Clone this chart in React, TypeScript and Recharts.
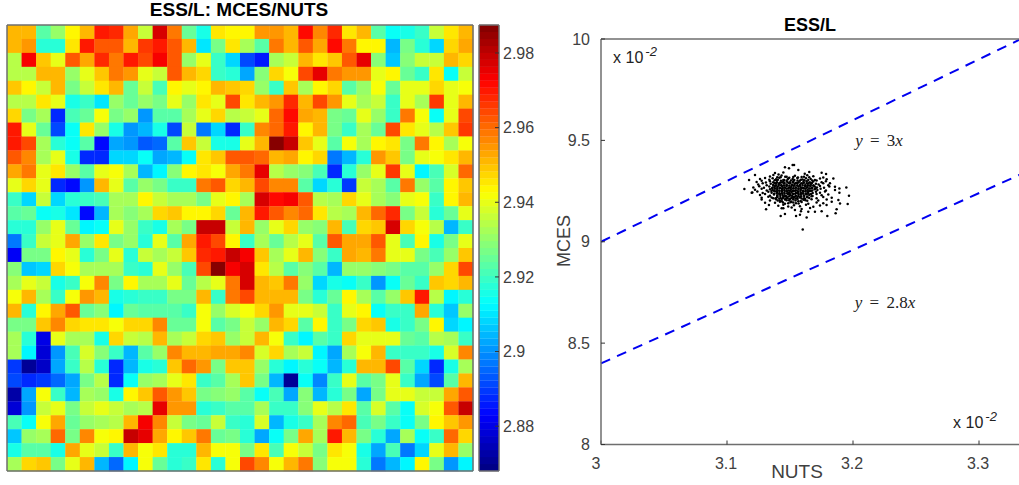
import React from 'react';
import {
  ScatterChart,
  Scatter,
  XAxis,
  YAxis,
  ReferenceLine,
} from 'recharts';

// Heat map rows, top to bottom, in thousandths above 2 (952 reads 2.952)
const heatRows: number[][] = [
  [952,952,924,930,943,952,969,968,953,937,977,959,925,915,946,943,943,955,955,951,972,956,968,946,951,924,913,915,919,936,946,952],
  [952,955,917,918,946,970,963,962,952,966,970,962,951,910,927,945,932,924,959,952,962,953,972,958,943,943,905,927,918,908,947,953],
  [934,973,949,940,962,953,968,959,970,965,973,963,930,939,920,908,892,886,933,937,952,946,949,963,975,929,906,929,936,937,952,947],
  [934,934,952,952,931,939,949,959,955,939,936,963,951,947,920,918,902,929,947,941,964,975,958,955,955,939,943,925,920,946,913,936],
  [950,943,937,951,927,937,946,951,925,936,922,943,939,943,952,949,947,931,920,949,932,944,947,924,931,941,925,939,940,947,939,942],
  [934,934,946,939,915,919,910,930,925,930,927,939,931,946,939,964,946,951,955,968,951,964,955,939,932,937,920,939,933,966,939,952],
  [947,926,932,888,922,925,941,927,931,901,924,923,932,939,947,934,936,939,960,971,953,951,927,925,939,931,920,958,941,913,939,965],
  [969,939,925,892,913,946,930,916,900,904,916,892,937,897,909,888,920,956,960,969,943,952,927,919,932,925,964,946,939,934,950,966],
  [969,965,932,918,913,923,883,902,900,893,895,923,949,936,916,916,940,951,986,980,950,939,923,941,932,943,945,927,959,943,933,942],
  [963,956,932,939,915,888,888,908,908,913,902,905,913,946,949,963,962,960,952,953,943,948,897,905,917,955,950,927,939,941,946,951],
  [953,959,939,946,930,924,939,941,932,905,912,929,943,946,941,953,958,975,934,931,929,922,887,917,930,939,966,939,911,922,938,960],
  [939,948,940,888,884,901,951,940,924,930,926,920,919,959,963,947,952,965,956,956,923,908,918,890,937,932,924,958,930,923,943,950],
  [920,909,936,908,918,919,922,932,932,943,937,932,932,927,939,944,932,978,971,973,962,934,932,947,939,932,929,939,941,920,943,952],
  [923,925,914,916,910,884,905,932,929,932,947,949,943,943,948,925,952,969,963,956,960,946,934,932,952,960,968,926,936,918,925,939],
  [917,917,931,940,925,911,914,939,930,920,916,932,926,980,980,936,951,930,939,947,930,929,952,922,947,949,978,947,942,934,905,920],
  [897,920,937,939,953,931,946,926,930,918,939,923,953,969,964,944,919,932,925,934,939,923,963,953,953,962,940,922,943,916,927,939],
  [882,926,926,943,939,917,926,939,918,936,932,937,950,968,969,980,973,949,932,939,952,929,920,953,951,958,940,940,927,922,930,950],
  [929,907,909,948,941,933,933,933,920,917,939,931,922,965,987,973,978,945,934,924,929,923,905,931,931,929,926,924,923,930,948,965],
  [932,940,937,915,920,941,956,926,943,932,932,939,925,934,939,959,978,951,949,959,930,908,916,914,919,900,913,925,920,949,947,951],
  [942,951,933,920,941,955,951,916,918,920,920,927,927,951,920,959,965,951,952,952,927,918,925,943,932,923,930,950,970,934,912,918],
  [952,918,943,953,962,925,929,911,925,924,924,924,920,941,931,938,942,947,955,939,939,937,919,940,943,914,919,919,953,918,907,930],
  [926,927,950,957,948,946,946,941,947,947,957,925,925,941,923,926,937,931,951,947,923,943,920,927,947,949,916,919,927,943,909,912],
  [932,917,880,940,932,932,915,947,937,934,951,932,936,947,950,931,936,951,941,919,912,924,919,947,939,939,940,925,923,934,932,919],
  [933,912,879,900,922,938,929,919,904,923,931,957,951,951,953,953,956,938,948,932,936,912,902,932,941,952,919,919,919,915,938,957],
  [890,871,876,902,920,934,917,887,905,915,918,949,960,955,927,950,950,930,918,912,918,913,905,918,952,951,965,924,908,887,916,932],
  [891,888,890,895,903,926,934,888,913,930,932,939,946,919,923,932,950,927,905,871,913,898,920,939,924,927,939,920,902,892,924,952],
  [873,902,941,919,905,932,931,916,943,949,962,955,950,927,929,930,924,914,922,903,929,905,917,927,902,926,939,939,937,937,953,962],
  [879,900,936,939,927,936,939,936,932,934,975,955,955,918,920,924,924,932,919,919,929,940,934,946,924,938,924,913,938,941,962,979],
  [922,913,941,953,925,930,933,934,951,974,957,936,927,925,936,919,917,938,904,916,920,932,956,960,922,927,919,914,927,943,949,955],
  [907,930,932,961,926,957,942,943,980,975,953,943,949,959,925,926,918,902,914,926,953,932,970,951,927,917,902,932,913,920,960,947],
  [915,924,924,915,953,940,936,920,952,942,946,918,918,951,941,941,927,946,922,941,937,927,946,941,916,902,922,897,908,939,951,931],
  [933,947,949,927,940,952,905,896,912,941,925,918,919,946,917,941,964,957,941,952,958,929,941,941,917,897,905,912,943,926,900,911],
];

// Range of the colour bar and the labels along it
const colorMin = 2.868;
const colorMax = 2.9875;
const colorTicks = [2.88, 2.9, 2.92, 2.94, 2.96, 2.98];
const cellTicks = [5, 10, 15, 20, 25, 30];

const nutsTicks = [3, 3.1, 3.2, 3.3];
const mcesTicks = [8, 8.5, 9, 9.5, 10];
const upperLine = [{ x: 3, y: 9 }, { x: 3.33333, y: 10 }];
const lowerLine = [{ x: 3, y: 8.4 }, { x: 3.33333, y: 9.33333 }];

// NUTS, MCES pairs
const cloudPoints: [number, number][] = [
  [3.1601,9.061],[3.1426,9.127],[3.146,9.137],[3.1548,9.127],[3.1579,9.133],[3.1632,9.12],[3.1796,9.127],[3.1862,9.14],
  [3.187,9.16],[3.1958,9.186],[3.1968,9.227],[3.1947,9.268],[3.1844,9.312],[3.1751,9.34],[3.1786,9.334],[3.1521,9.378],
  [3.1532,9.378],[3.146,9.367],[3.1492,9.362],[3.1566,9.354],[3.1222,9.329],[3.1175,9.304],[3.1138,9.26],[3.1196,9.242],
  [3.1275,9.209],[3.131,9.16],[3.1333,9.181],[3.1302,9.192],[3.1884,9.206],[3.1857,9.255],[3.1857,9.271],[3.1892,9.263],
  [3.1892,9.242],[3.1817,9.288],[3.1897,9.189],[3.1831,9.197],[3.179,9.181],[3.1751,9.151],[3.1698,9.148],[3.1645,9.148],
  [3.1587,9.15],[3.1539,9.156],[3.1434,9.165],
  [3.1381,9.339],[3.1409,9.332],[3.1447,9.342],[3.1617,9.336],[3.1653,9.344],
  [3.1341,9.322],[3.1368,9.329],[3.1399,9.318],[3.1433,9.327],[3.1473,9.321],[3.1539,9.326],[3.1592,9.319],[3.1637,9.328],[3.1685,9.323],[3.1764,9.317],
  [3.1262,9.309],[3.1302,9.315],[3.1336,9.306],[3.1362,9.313],[3.1389,9.308],[3.1415,9.316],[3.1447,9.305],[3.1486,9.312],[3.1521,9.309],[3.1558,9.315],[3.16,9.307],[3.1627,9.313],[3.1664,9.31],[3.1698,9.304],[3.1738,9.312],[3.1791,9.308],
  [3.1235,9.295],[3.1275,9.301],[3.1309,9.292],[3.1341,9.299],[3.1367,9.294],[3.1394,9.302],[3.142,9.291],[3.1447,9.297],[3.1473,9.3],[3.15,9.293],[3.1526,9.298],[3.1553,9.291],[3.1579,9.301],[3.1606,9.295],[3.1632,9.299],[3.1659,9.292],[3.1685,9.297],[3.1711,9.302],[3.1751,9.294],[3.1785,9.298],
  [3.1248,9.282],[3.1283,9.288],[3.1315,9.279],[3.1347,9.286],[3.1367,9.281],[3.1389,9.288],[3.141,9.283],[3.1431,9.279],[3.1452,9.287],[3.1473,9.282],[3.1494,9.288],[3.1515,9.28],[3.1536,9.285],[3.1558,9.289],[3.1579,9.281],[3.16,9.286],[3.1621,9.279],[3.1642,9.287],[3.1664,9.283],[3.1685,9.278],[3.1706,9.286],[3.1727,9.282],[3.1764,9.288],[3.1804,9.279],
  [3.1209,9.268],[3.1256,9.274],[3.1293,9.266],[3.1336,9.272],[3.1362,9.267],[3.138,9.275],[3.1399,9.27],[3.1417,9.265],[3.1436,9.273],[3.1455,9.268],[3.1473,9.275],[3.1492,9.266],[3.151,9.271],[3.1529,9.276],[3.1547,9.267],[3.1566,9.273],[3.1585,9.269],[3.1603,9.265],[3.1622,9.274],[3.164,9.27],[3.1659,9.276],[3.1677,9.266],[3.1696,9.272],[3.1714,9.268],[3.1738,9.275],[3.177,9.266],[3.1812,9.272],
  [3.1222,9.256],[3.1275,9.261],[3.1315,9.253],[3.1341,9.259],[3.1362,9.255],[3.138,9.262],[3.1399,9.257],[3.1417,9.252],[3.1436,9.26],[3.1455,9.255],[3.1473,9.262],[3.1492,9.253],[3.151,9.258],[3.1529,9.263],[3.1547,9.254],[3.1566,9.26],[3.1585,9.256],[3.1603,9.252],[3.1622,9.261],[3.164,9.257],[3.1659,9.263],[3.1677,9.253],[3.1696,9.259],[3.1717,9.255],[3.1743,9.262],[3.1785,9.253],
  [3.1201,9.243],[3.1241,9.248],[3.1283,9.24],[3.1328,9.246],[3.1354,9.242],[3.138,9.249],[3.1399,9.244],[3.1417,9.239],[3.1436,9.247],[3.1455,9.242],[3.1473,9.249],[3.1492,9.24],[3.151,9.245],[3.1529,9.25],[3.1547,9.241],[3.1566,9.247],[3.1585,9.243],[3.1603,9.239],[3.1622,9.248],[3.164,9.244],[3.1659,9.25],[3.168,9.24],[3.1706,9.246],[3.1738,9.242],[3.1778,9.248],
  [3.1262,9.23],[3.1302,9.235],[3.1341,9.227],[3.1373,9.233],[3.1399,9.229],[3.142,9.236],[3.1441,9.231],[3.1462,9.226],[3.1484,9.234],[3.1505,9.229],[3.1526,9.236],[3.1547,9.227],[3.1568,9.232],[3.1589,9.237],[3.1611,9.228],[3.1632,9.234],[3.1653,9.23],[3.1679,9.226],[3.1711,9.235],[3.1751,9.229],[3.1804,9.233],
  [3.1275,9.217],[3.1328,9.222],[3.1367,9.214],[3.1399,9.22],[3.1425,9.216],[3.1452,9.223],[3.1478,9.218],[3.1505,9.213],[3.1531,9.221],[3.1558,9.216],[3.1584,9.223],[3.1611,9.214],[3.1637,9.219],[3.1671,9.224],[3.1711,9.215],[3.1764,9.221],[3.1831,9.217],
  [3.1341,9.204],[3.1389,9.21],[3.142,9.201],[3.146,9.208],[3.1494,9.203],[3.1526,9.209],[3.1566,9.2],[3.1606,9.207],[3.1637,9.202],[3.1671,9.21],[3.1724,9.204],[3.1791,9.208],
  [3.1381,9.192],[3.142,9.197],[3.146,9.188],[3.1505,9.195],[3.1547,9.19],[3.1592,9.196],[3.1645,9.188],[3.1711,9.194],[3.1764,9.19],
  [3.1407,9.177],[3.1447,9.183],[3.1486,9.174],[3.1531,9.18],[3.1579,9.175],[3.1627,9.182],[3.1685,9.173],[3.1738,9.179],
  [3.1447,9.165],[3.1513,9.169],[3.1592,9.162],[3.1659,9.167],
  // dense middle of the cloud
  [3.1378,9.29],[3.1397,9.293],[3.1415,9.288],[3.1436,9.292],[3.1457,9.29],[3.1481,9.293],[3.1502,9.289],[3.1523,9.292],[3.1544,9.29],[3.1568,9.293],[3.1589,9.288],[3.1611,9.291],[3.1632,9.289],[3.1653,9.292],[3.1674,9.29],
  [3.1368,9.277],[3.1389,9.279],[3.141,9.276],[3.1431,9.279],[3.1452,9.277],[3.1473,9.278],[3.1494,9.276],[3.1515,9.279],[3.1536,9.277],[3.1558,9.279],[3.1579,9.276],[3.16,9.278],[3.1621,9.277],[3.1642,9.279],[3.1664,9.276],[3.1688,9.278],
  [3.1357,9.264],[3.1378,9.266],[3.1399,9.263],[3.142,9.265],[3.1441,9.264],[3.1462,9.266],[3.1484,9.263],[3.1505,9.265],[3.1526,9.264],[3.1547,9.266],[3.1568,9.263],[3.1589,9.265],[3.1611,9.264],[3.1632,9.266],[3.1653,9.263],[3.1674,9.265],[3.1703,9.264],
  [3.1352,9.25],[3.1373,9.252],[3.1394,9.249],[3.1415,9.251],[3.1436,9.25],[3.1457,9.252],[3.1478,9.249],[3.1499,9.251],[3.152,9.25],[3.1541,9.252],[3.1562,9.249],[3.1583,9.251],[3.1604,9.25],[3.1625,9.252],[3.1646,9.249],[3.167,9.251],
  [3.1373,9.237],[3.1394,9.239],[3.1415,9.236],[3.1436,9.238],[3.1457,9.237],[3.1478,9.239],[3.1499,9.236],[3.152,9.238],[3.1541,9.237],[3.1562,9.239],[3.1583,9.236],[3.1604,9.238],[3.1625,9.237],[3.1646,9.239],[3.1667,9.236],
  [3.1399,9.224],[3.1423,9.226],[3.1447,9.223],[3.1471,9.225],[3.1494,9.224],[3.1518,9.226],[3.1542,9.223],[3.1566,9.225],[3.1589,9.224],[3.1613,9.226],[3.1637,9.223],
  [3.1434,9.211],[3.1465,9.213],[3.1497,9.21],[3.1528,9.212],[3.156,9.211],[3.1592,9.213],
  // thicker top and bottom of the middle
  [3.1378,9.303],[3.1404,9.306],[3.1428,9.301],[3.1455,9.304],[3.1481,9.307],[3.1507,9.302],[3.1534,9.305],[3.156,9.302],[3.1587,9.306],[3.1614,9.303],[3.1645,9.305],[3.1677,9.302],
  [3.1425,9.318],[3.1462,9.32],[3.1494,9.316],[3.1526,9.319],[3.1563,9.317],[3.1611,9.32],[3.1653,9.318],
  [3.1354,9.218],[3.1386,9.215],[3.1415,9.212],[3.1444,9.216],[3.1481,9.214],[3.1515,9.217],[3.1547,9.213],[3.1579,9.218],[3.1619,9.212],[3.1653,9.216],
  [3.1402,9.204],[3.1436,9.2],[3.1473,9.205],[3.151,9.199],[3.1544,9.204],[3.1585,9.201],[3.1622,9.205],
  [3.1444,9.194],[3.1486,9.19],[3.1526,9.193],[3.1568,9.189],
];

const heatCells = heatRows.flatMap((row, r) =>
  row.map((v, c) => ({ col: c + 1, row: r + 1, value: 2 + v / 1000 })),
);
const cloudData = cloudPoints.map(([nuts, mces]) => ({ nuts, mces }));
const colorLevels = Array.from({ length: 64 }, (_, i) => ({
  x: 0.5,
  value: colorMin + ((i + 0.5) * (colorMax - colorMin)) / 64,
}));

const clamp = (v: number) => Math.max(0, Math.min(1, v));
// matlab jet, 64 steps
const jet = (value: number) => {
  const step = Math.floor(((value - colorMin) / (colorMax - colorMin)) * 64);
  const t = (Math.max(0, Math.min(63, step)) + 0.5) / 64;
  const ch = (c: number) => Math.round(clamp(1.5 - Math.abs(4 * t - c)) * 255);
  return `rgb(${ch(3)},${ch(2)},${ch(1)})`;
};

const FRAME = '#6e6e6e';
const TICK = '#333';
const TEXT = '#404040';
const FONT = '"Liberation Sans", Arial, sans-serif';

const cellW = 466 / 32;
const cellH = 446 / 32;

const HeatCell = (p: any) => (
  <rect
    x={p.cx - cellW / 2}
    y={p.cy - cellH / 2}
    width={cellW + 0.3}
    height={cellH + 0.3}
    fill={jet(p.payload.value)}
  />
);
const LevelCell = (p: any) => (
  <rect x={479} y={p.cy - 3.6} width={20} height={7.2} fill={jet(p.payload.value)} />
);
const Dot = (p: any) => <circle cx={p.cx} cy={p.cy} r={1.25} fill="#000" />;

// mirrored frame axes take no room, ticks point into the plot
const frameProps = {
  type: 'number' as const,
  allowDataOverflow: true,
  interval: 0 as const,
  mirror: true,
  tick: false,
  tickSize: 4,
  axisLine: { stroke: FRAME, strokeWidth: 1.5 },
  tickLine: { stroke: TICK },
};
const noRows: any[] = [];

const NutsTick = (p: any) => (
  <text
    x={p.payload.value === 3 ? p.x - 5 : p.x - 1}
    y={p.y + 14}
    textAnchor="middle"
    fontSize={16}
    fontFamily={FONT}
    fill={TEXT}
  >
    {p.payload.value}
  </text>
);

const Note: React.FC<{ x: number; y: number; style?: React.CSSProperties; children: React.ReactNode }> = ({
  x,
  y,
  style,
  children,
}) => (
  <div
    style={{
      position: 'absolute',
      left: x,
      top: y,
      transform: 'translate(-50%, -50%)',
      whiteSpace: 'nowrap',
      fontFamily: FONT,
      lineHeight: 1,
      color: '#000',
      ...style,
    }}
  >
    {children}
  </div>
);

const Times10: React.FC<{ x: number; y: number }> = ({ x, y }) => (
  <Note x={x} y={y} style={{ fontSize: 16, color: '#222' }}>
    x 10
    <span style={{ fontSize: 13, fontStyle: 'italic', position: 'relative', top: -7, marginLeft: 2 }}>-2</span>
  </Note>
);

const Equation: React.FC<{ x: number; y: number; k: string }> = ({ x, y, k }) => (
  <Note x={x} y={y} style={{ fontFamily: '"Liberation Serif", serif', fontSize: 17, wordSpacing: 3, color: '#222' }}>
    <i>y</i> = {k}<i>x</i>
  </Note>
);

const layer: React.CSSProperties = { position: 'absolute', left: 0, top: 0 };

const App: React.FC = () => {
  return (
    <div style={{ position: 'absolute', left: 0, top: 0, width: 1019, height: 485, overflow: 'hidden', background: '#fff' }}>
      {/* Heat map cells */}
      <div style={layer}>
        <ScatterChart width={480} height={485} margin={{ top: 25, left: 7, right: 7, bottom: 14 }}>
          <XAxis dataKey="col" type="number" hide domain={[0.5, 32.5]} />
          <YAxis dataKey="row" type="number" hide reversed domain={[0.5, 32.5]} />
          <Scatter data={heatCells} shape={HeatCell} isAnimationActive={false} />
        </ScatterChart>
      </div>

      {/* Colour bar cells */}
      <div style={layer}>
        <ScatterChart width={560} height={485} margin={{ top: 25, left: 479, right: 61, bottom: 14 }}>
          <XAxis dataKey="x" type="number" hide domain={[0, 1]} />
          <YAxis dataKey="value" type="number" hide domain={[colorMin, colorMax]} />
          <Scatter data={colorLevels} shape={LevelCell} isAnimationActive={false} />
        </ScatterChart>
      </div>

      {/* Heat map frame, drawn over the cells */}
      <div style={layer}>
        <ScatterChart width={480} height={485} margin={{ top: 25, left: 7, right: 7, bottom: 14 }}>
          <XAxis xAxisId="b" dataKey="col" orientation="bottom" height={1} domain={[0.5, 32.5]} ticks={cellTicks} {...frameProps} />
          <XAxis xAxisId="t" dataKey="col" orientation="top" height={1} domain={[0.5, 32.5]} ticks={cellTicks} {...frameProps} />
          <YAxis yAxisId="l" dataKey="row" orientation="left" width={1} reversed domain={[0.5, 32.5]} ticks={cellTicks} {...frameProps} />
          <YAxis yAxisId="r" dataKey="row" orientation="right" width={1} reversed domain={[0.5, 32.5]} ticks={cellTicks} {...frameProps} />
          <Scatter xAxisId="b" yAxisId="l" data={noRows} isAnimationActive={false} />
          <Scatter xAxisId="t" yAxisId="r" data={noRows} isAnimationActive={false} />
        </ScatterChart>
      </div>

      {/* Colour bar frame and labels */}
      <div style={layer}>
        <ScatterChart width={560} height={485} margin={{ top: 25, left: 479, right: 60, bottom: 14 }}>
          <XAxis xAxisId="b" dataKey="x" orientation="bottom" height={1} domain={[0, 1]} ticks={[]} {...frameProps} />
          <XAxis xAxisId="t" dataKey="x" orientation="top" height={1} domain={[0, 1]} ticks={[]} {...frameProps} />
          <YAxis yAxisId="l" dataKey="value" orientation="left" width={1} domain={[colorMin, colorMax]} ticks={[]} {...frameProps} />
          <YAxis
            yAxisId="r"
            dataKey="value"
            orientation="right"
            width={1}
            domain={[colorMin, colorMax]}
            ticks={colorTicks}
            type="number"
            allowDataOverflow
            interval={0}
            axisLine={frameProps.axisLine}
            tickLine={frameProps.tickLine}
            tickSize={-4}
            tickMargin={8}
            tick={{ fontSize: 16, fontFamily: FONT, fill: TEXT }}
          />
          <Scatter xAxisId="b" yAxisId="l" data={noRows} isAnimationActive={false} />
          <Scatter xAxisId="t" yAxisId="r" data={noRows} isAnimationActive={false} />
        </ScatterChart>
      </div>

      {/* Scatter panel */}
      <div style={{ position: 'absolute', left: 540, top: 0 }}>
        <ScatterChart width={490} height={485} margin={{ top: 39, left: 21, right: 9, bottom: 10.5 }}>
          <XAxis
            xAxisId="b"
            dataKey="nuts"
            orientation="bottom"
            type="number"
            height={30}
            domain={[3, 3.33333]}
            ticks={nutsTicks}
            allowDataOverflow
            interval={0}
            axisLine={frameProps.axisLine}
            tickLine={frameProps.tickLine}
            tickSize={-4}
            tickMargin={14}
            tick={<NutsTick />}
          />
          <XAxis xAxisId="t" dataKey="nuts" orientation="top" height={1} domain={[3, 3.33333]} ticks={nutsTicks} {...frameProps} />
          <YAxis
            yAxisId="l"
            dataKey="mces"
            orientation="left"
            type="number"
            width={40}
            domain={[8, 10]}
            ticks={mcesTicks}
            allowDataOverflow
            interval={0}
            axisLine={frameProps.axisLine}
            tickLine={frameProps.tickLine}
            tickSize={-4}
            tickMargin={15}
            tick={{ fontSize: 16, fontFamily: FONT, fill: TEXT }}
          />
          <YAxis yAxisId="r" dataKey="mces" orientation="right" width={1} domain={[8, 10]} ticks={mcesTicks} {...frameProps} />
          <ReferenceLine xAxisId="b" yAxisId="l" segment={upperLine} stroke="#0000f0" strokeWidth={2} strokeDasharray="10 7.6" />
          <ReferenceLine xAxisId="b" yAxisId="l" segment={lowerLine} stroke="#0000f0" strokeWidth={2} strokeDasharray="10 7.6" />
          <Scatter xAxisId="b" yAxisId="l" data={cloudData} shape={Dot} isAnimationActive={false} />
          <Scatter xAxisId="t" yAxisId="r" data={noRows} isAnimationActive={false} />
        </ScatterChart>
      </div>

      <Note x={239} y={9} style={{ fontSize: 19, fontWeight: 700 }}>ESS/L: MCES/NUTS</Note>
      <Note x={810} y={25} style={{ fontSize: 18, fontWeight: 700 }}>ESS/L</Note>
      <Note x={797} y={471} style={{ fontSize: 19, color: TEXT }}>NUTS</Note>
      <Note x={564} y={241} style={{ fontSize: 18, color: TEXT, transform: 'translate(-50%, -50%) rotate(-90deg)' }}>MCES</Note>
      <Times10 x={635} y={58} />
      <Times10 x={975} y={423} />
      <Equation x={879} y={140} k="3" />
      <Equation x={885} y={302} k="2.8" />
    </div>
  );
};

export default App;
